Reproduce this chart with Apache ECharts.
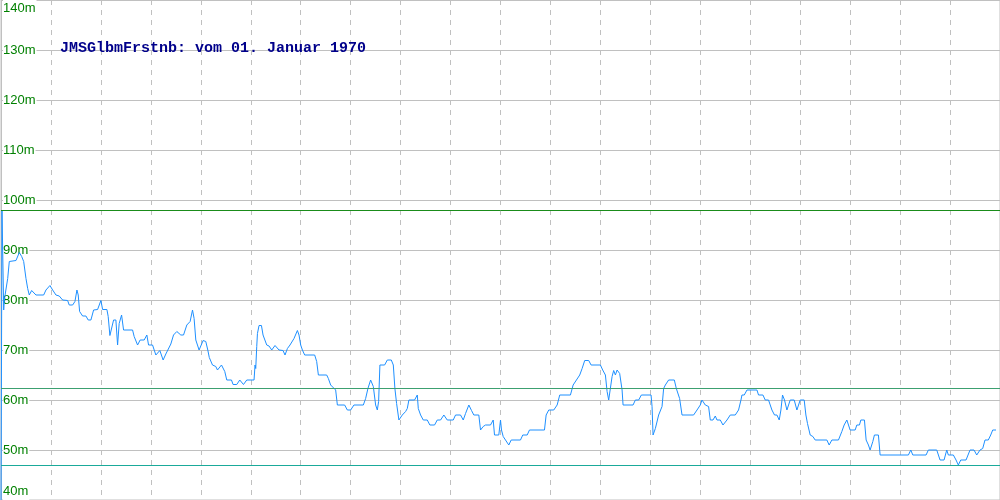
<!DOCTYPE html>
<html>
<head>
<meta charset="utf-8">
<script src="https://cdn.jsdelivr.net/npm/echarts@6/dist/echarts.min.js"></script>
<style>html,body{margin:0;padding:0;background:#fff}#c{width:1000px;height:500px}</style>
</head>
<body>
<div id="c"></div>
<script>
var titleText = 'JMSGlbmFrstnb: vom 01. Januar 1970';
var yTicks = [40, 50, 60, 70, 80, 90, 100, 110, 120, 130, 140];
var refLines = [97.9, 62.3, 46.9];
var refColors = ['#1a8c1a', '#3ca070', '#1aaa9a'];

var days = [0,1,2,2.7,3.3,6.7,8.3,9,15,18.3,20.7,22.7,25,26.7,28.3,30.7,32.7,35,42.7,45,49,51.7,55,58.3,61.7,63.3,66.7,68.3,71.7,74,76,77.3,78.7,81.7,85,87.3,90,92.7,96.7,100,101.7,106,107.3,109,110.7,112.7,115,116.7,118.3,120.7,122.7,131.7,133.3,136.7,139.3,143.3,146,147.7,151.7,155,156.7,159,162.3,165,166.7,170,172.7,176,180,182.7,186,189.3,191.7,193.3,195,198.3,200,202.3,205,207,208.5,211.7,215,216.7,218.3,220.7,222.3,224,226,230.7,232.3,236,239,240.7,242.7,244.3,246,253.3,254.3,255,256,256.7,258.3,260.7,262.3,264,266,268.3,271,272.7,274.3,276,278.3,282.3,284.3,286.7,289.3,291,293.3,296.7,298.3,300,301.7,304,314,316,317.7,326,327.7,330,335,336.7,344,346.7,350,353.3,362.7,365,367.3,370,372.7,375,376.7,378,379.3,384,386.7,390.7,392.7,394.3,396,398.3,401.7,405,406.7,408.3,414,416.7,417.7,420,422.7,426.7,429.3,434,436.7,440,443.3,446.7,452.7,455,460,462.7,465,468.3,471,473.3,478.3,480,482.7,485,490,492.7,494,498.3,500,501,502.7,505,508.3,510.7,520,522.3,526.7,529,544,545.7,548.3,553.3,556.7,559.3,570,572.7,576,579.3,581.7,584.3,588.3,590.7,600,602.3,605,606.7,608.3,610,611.7,613.3,615,616.7,619.3,621.7,622.7,632.7,635,638.3,641,650.7,651.7,652.7,655,658.3,661.7,663.3,665,668.3,674,676,679.3,681.7,693.3,696.7,700,701.7,705,708.3,710,712.7,715,716.7,720,722.7,726.7,730,735,738.3,740.7,741.7,744,746.7,756.7,758.3,762.7,765,768.3,771.7,774.3,776.7,779,780.7,782.3,784.3,786.7,788.3,790,794,796.7,800,804,805.7,807.3,810,812.7,815,826.7,829,831.7,838.3,841.7,844,846.7,850,855,856.7,859.3,860.7,864.3,866,868.3,870,872.7,874.3,878.3,880,908.3,910.7,912.7,926,928.3,936.7,940,944,946.7,948.3,953.3,956,958.3,960.7,966,970,974,976.7,980,982.7,985,988.3,990.7,992.7,996];

var jmsValues = [38,98,98,78,80,84.3,87.7,87.9,87.9,89.5,88.7,87.7,84.3,82.3,81,81.9,81.7,81,81,82,82.9,82,81,80.8,80,79.9,79.9,79,79,79.7,82,81,77.7,76.8,76.8,76,76,78,78.1,79.9,78.1,78.1,76.7,72.9,72.9,76,76,71,75.3,77,74,74,72.7,71,72,72,73,71,71,69,69,69.9,68,69.2,69.2,71.2,73,73.7,73,73,75,75.7,78,76.3,72,70,70,71.9,71.7,70,68.5,67,66.7,66,66,67,66.7,65.7,64,64,63.1,63.1,64,63.7,63.1,63.1,64,64,67,66.3,70.7,73.3,74.9,74.9,73,72.7,71,70.8,70,70,70.9,70.9,70,69.9,69,70.3,71,71.2,72.3,73.9,73,71,70,69,69,67.7,65,65,64.3,63,62,59,59,58,58,59,59,60.3,62.3,64,62.7,59,58,59.7,67,67,68,68,67,62.3,59.3,56,57,57.7,58.3,60,60,61,58.3,57,56,56,55,55,56,56,57,56,56,57,57,56,57.3,59,57.9,57,57,54,54.7,55,55,56,53,53,56,54,52.7,52,51,52,52,53,53,54,54,57,58,58,59,61,61,63,64,65,66.3,67.9,67.9,67,67,66,65,61.7,60,60,64.7,65.9,65,66,65.3,62,59,59,60,60,61,61,58.7,53,54.3,57,58.7,62.3,63,64,64,62.3,60.3,57,57,58,59,60,59,58.7,56,56,56.8,56,56,55,56,57,57,58,60,61,61,62,62,61,61,60,60,58,57,57,56,58,61,60,58,58,60,60,58,60,60,57,55.3,53,52.7,52,52,51,52,52,53.7,55,56,54,54,55,55,56,56,52,51,50,51.7,53,53,49,49,50,49,49,50,50,48,48,50,49,49,48,47,48,48,50,50,49,50,50.3,52,52,53,54,54];

var seriesData = days.map(function (d, i) { return [d, jmsValues[i]]; });

var chart = echarts.init(document.getElementById('c'), null, { renderer: 'canvas' });
chart.setOption({
  animation: false,
  backgroundColor: '#ffffff',
  title: {
    text: titleText,
    left: 60, top: 41, padding: 0,
    textStyle: { color: '#00008b', fontFamily: 'Liberation Mono', fontWeight: 'bold', fontSize: 15 }
  },
  grid: { left: 0, right: 0, top: 0, bottom: 0, show: true, borderColor: '#c0c0c0', borderWidth: 1, containLabel: false },
  xAxis: {
    type: 'value', min: 0, max: 1000, interval: 50,
    axisLine: { show: false }, axisTick: { show: false }, axisLabel: { show: false },
    splitLine: { show: true, lineStyle: { color: '#c0c0c0', type: [5, 5], width: 1 } }
  },
  yAxis: {
    type: 'value', min: yTicks[0], max: yTicks[yTicks.length - 1], interval: yTicks[1] - yTicks[0],
    axisLine: { show: true, lineStyle: { color: '#c0c0c0' } }, axisTick: { show: false },
    axisLabel: {
      inside: true, margin: 2, formatter: '{value}m', color: '#008000',
      fontFamily: 'Liberation Sans', fontSize: 13, lineHeight: 17,
      backgroundColor: '#ffffff', padding: [0, 1, 0, 0],
      verticalAlignMaxLabel: 'top', verticalAlignMinLabel: 'bottom'
    },
    splitLine: { show: true, lineStyle: { color: '#c0c0c0', width: 1 } }
  },
  series: [{
    type: 'line', data: seriesData, showSymbol: false, symbol: 'none', clip: true,
    lineStyle: { color: '#1e90ff', width: 1 }, z: 3,
    markLine: {
      silent: true, symbol: 'none', label: { show: false },
      data: refLines.map(function (v, i) { return { yAxis: v, lineStyle: { color: refColors[i], width: 1, type: 'solid' } }; })
    }
  }]
});
</script>
</body>
</html>
